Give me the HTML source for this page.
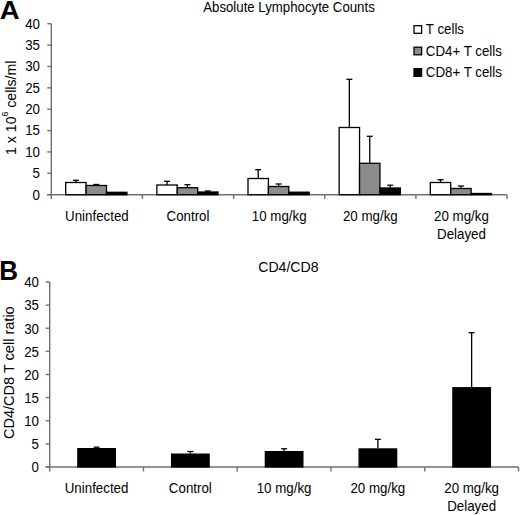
<!DOCTYPE html>
<html><head><meta charset="utf-8"><style>
html,body{margin:0;padding:0;background:#fff;}
svg{display:block;}
text{font-family:"Liberation Sans", sans-serif;fill:#000;}
</style></head><body>
<svg width="520" height="515" viewBox="0 0 520 515">
<rect width="520" height="515" fill="#fff"/>
<line x1="51.30" y1="23.70" x2="51.30" y2="194.70" stroke="#707070" stroke-width="1.4"/>
<line x1="47.30" y1="194.70" x2="51.30" y2="194.70" stroke="#707070" stroke-width="1.4"/>
<text transform="translate(40.00,199.60) scale(0.952,1.000)" font-size="14" text-anchor="end"  >0</text>
<line x1="47.30" y1="173.32" x2="51.30" y2="173.32" stroke="#707070" stroke-width="1.4"/>
<text transform="translate(40.00,178.22) scale(0.952,1.000)" font-size="14" text-anchor="end"  >5</text>
<line x1="47.30" y1="151.95" x2="51.30" y2="151.95" stroke="#707070" stroke-width="1.4"/>
<text transform="translate(40.00,156.85) scale(0.952,1.000)" font-size="14" text-anchor="end"  >10</text>
<line x1="47.30" y1="130.57" x2="51.30" y2="130.57" stroke="#707070" stroke-width="1.4"/>
<text transform="translate(40.00,135.47) scale(0.952,1.000)" font-size="14" text-anchor="end"  >15</text>
<line x1="47.30" y1="109.20" x2="51.30" y2="109.20" stroke="#707070" stroke-width="1.4"/>
<text transform="translate(40.00,114.10) scale(0.952,1.000)" font-size="14" text-anchor="end"  >20</text>
<line x1="47.30" y1="87.82" x2="51.30" y2="87.82" stroke="#707070" stroke-width="1.4"/>
<text transform="translate(40.00,92.72) scale(0.952,1.000)" font-size="14" text-anchor="end"  >25</text>
<line x1="47.30" y1="66.45" x2="51.30" y2="66.45" stroke="#707070" stroke-width="1.4"/>
<text transform="translate(40.00,71.35) scale(0.952,1.000)" font-size="14" text-anchor="end"  >30</text>
<line x1="47.30" y1="45.07" x2="51.30" y2="45.07" stroke="#707070" stroke-width="1.4"/>
<text transform="translate(40.00,49.97) scale(0.952,1.000)" font-size="14" text-anchor="end"  >35</text>
<line x1="47.30" y1="23.70" x2="51.30" y2="23.70" stroke="#707070" stroke-width="1.4"/>
<text transform="translate(40.00,28.60) scale(0.952,1.000)" font-size="14" text-anchor="end"  >40</text>
<line x1="47.30" y1="194.70" x2="507.05" y2="194.70" stroke="#707070" stroke-width="1.4"/>
<rect x="65.70" y="182.50" width="20.40" height="12.20" fill="#ffffff" stroke="#000" stroke-width="1.3"/>
<line x1="75.90" y1="180.30" x2="75.90" y2="182.50" stroke="#000" stroke-width="1.3"/>
<line x1="72.90" y1="180.30" x2="78.90" y2="180.30" stroke="#000" stroke-width="1.3"/>
<rect x="86.10" y="185.50" width="20.40" height="9.20" fill="#8c8c8c" stroke="#000" stroke-width="1.3"/>
<line x1="96.30" y1="184.50" x2="96.30" y2="185.50" stroke="#000" stroke-width="1.3"/>
<line x1="93.30" y1="184.50" x2="99.30" y2="184.50" stroke="#000" stroke-width="1.3"/>
<rect x="106.50" y="192.30" width="20.40" height="2.40" fill="#000000" stroke="#000" stroke-width="1.3"/>
<rect x="156.85" y="185.00" width="20.40" height="9.70" fill="#ffffff" stroke="#000" stroke-width="1.3"/>
<line x1="167.05" y1="181.30" x2="167.05" y2="185.00" stroke="#000" stroke-width="1.3"/>
<line x1="164.05" y1="181.30" x2="170.05" y2="181.30" stroke="#000" stroke-width="1.3"/>
<rect x="177.25" y="187.70" width="20.40" height="7.00" fill="#8c8c8c" stroke="#000" stroke-width="1.3"/>
<line x1="187.45" y1="184.70" x2="187.45" y2="187.70" stroke="#000" stroke-width="1.3"/>
<line x1="184.45" y1="184.70" x2="190.45" y2="184.70" stroke="#000" stroke-width="1.3"/>
<rect x="197.65" y="192.00" width="20.40" height="2.70" fill="#000000" stroke="#000" stroke-width="1.3"/>
<line x1="207.85" y1="191.00" x2="207.85" y2="192.00" stroke="#000" stroke-width="1.3"/>
<line x1="204.85" y1="191.00" x2="210.85" y2="191.00" stroke="#000" stroke-width="1.3"/>
<rect x="248.00" y="178.50" width="20.40" height="16.20" fill="#ffffff" stroke="#000" stroke-width="1.3"/>
<line x1="258.20" y1="169.70" x2="258.20" y2="178.50" stroke="#000" stroke-width="1.3"/>
<line x1="255.20" y1="169.70" x2="261.20" y2="169.70" stroke="#000" stroke-width="1.3"/>
<rect x="268.40" y="186.50" width="20.40" height="8.20" fill="#8c8c8c" stroke="#000" stroke-width="1.3"/>
<line x1="278.60" y1="184.00" x2="278.60" y2="186.50" stroke="#000" stroke-width="1.3"/>
<line x1="275.60" y1="184.00" x2="281.60" y2="184.00" stroke="#000" stroke-width="1.3"/>
<rect x="288.80" y="192.20" width="20.40" height="2.50" fill="#000000" stroke="#000" stroke-width="1.3"/>
<rect x="339.15" y="127.50" width="20.40" height="67.20" fill="#ffffff" stroke="#000" stroke-width="1.3"/>
<line x1="349.35" y1="79.30" x2="349.35" y2="127.50" stroke="#000" stroke-width="1.3"/>
<line x1="346.35" y1="79.30" x2="352.35" y2="79.30" stroke="#000" stroke-width="1.3"/>
<rect x="359.55" y="163.30" width="20.40" height="31.40" fill="#8c8c8c" stroke="#000" stroke-width="1.3"/>
<line x1="369.75" y1="136.30" x2="369.75" y2="163.30" stroke="#000" stroke-width="1.3"/>
<line x1="366.75" y1="136.30" x2="372.75" y2="136.30" stroke="#000" stroke-width="1.3"/>
<rect x="379.95" y="188.00" width="20.40" height="6.70" fill="#000000" stroke="#000" stroke-width="1.3"/>
<line x1="390.15" y1="185.20" x2="390.15" y2="188.00" stroke="#000" stroke-width="1.3"/>
<line x1="387.15" y1="185.20" x2="393.15" y2="185.20" stroke="#000" stroke-width="1.3"/>
<rect x="430.30" y="182.50" width="20.40" height="12.20" fill="#ffffff" stroke="#000" stroke-width="1.3"/>
<line x1="440.50" y1="179.70" x2="440.50" y2="182.50" stroke="#000" stroke-width="1.3"/>
<line x1="437.50" y1="179.70" x2="443.50" y2="179.70" stroke="#000" stroke-width="1.3"/>
<rect x="450.70" y="188.50" width="20.40" height="6.20" fill="#8c8c8c" stroke="#000" stroke-width="1.3"/>
<line x1="460.90" y1="186.00" x2="460.90" y2="188.50" stroke="#000" stroke-width="1.3"/>
<line x1="457.90" y1="186.00" x2="463.90" y2="186.00" stroke="#000" stroke-width="1.3"/>
<rect x="471.10" y="193.50" width="20.40" height="1.20" fill="#000000" stroke="#000" stroke-width="1.3"/>
<line x1="51.30" y1="194.70" x2="51.30" y2="199.00" stroke="#707070" stroke-width="1.4"/>
<line x1="142.45" y1="194.70" x2="142.45" y2="199.00" stroke="#707070" stroke-width="1.4"/>
<line x1="233.60" y1="194.70" x2="233.60" y2="199.00" stroke="#707070" stroke-width="1.4"/>
<line x1="324.75" y1="194.70" x2="324.75" y2="199.00" stroke="#707070" stroke-width="1.4"/>
<line x1="415.90" y1="194.70" x2="415.90" y2="199.00" stroke="#707070" stroke-width="1.4"/>
<line x1="507.05" y1="194.70" x2="507.05" y2="199.00" stroke="#707070" stroke-width="1.4"/>
<text transform="translate(96.88,220.70) scale(0.952,1.000)" font-size="14" text-anchor="middle"  >Uninfected</text>
<text transform="translate(188.02,220.70) scale(0.952,1.000)" font-size="14" text-anchor="middle"  >Control</text>
<text transform="translate(279.18,220.70) scale(0.952,1.000)" font-size="14" text-anchor="middle"  >10 mg/kg</text>
<text transform="translate(370.33,220.70) scale(0.952,1.000)" font-size="14" text-anchor="middle"  >20 mg/kg</text>
<text transform="translate(461.48,220.70) scale(0.952,1.000)" font-size="14" text-anchor="middle"  >20 mg/kg</text>
<text transform="translate(461.48,238.60) scale(0.952,1.000)" font-size="14" text-anchor="middle"  >Delayed</text>
<text transform="translate(203.20,12.20) scale(0.946,1.000)" font-size="14" text-anchor="start"  >Absolute Lymphocyte Counts</text>
<rect x="414.00" y="25.70" width="7.60" height="7.60" fill="#fff" stroke="#000" stroke-width="1.3"/>
<text transform="translate(425.80,34.30) scale(0.952,1.000)" font-size="14" text-anchor="start"  >T cells</text>
<rect x="414.00" y="47.20" width="7.60" height="7.60" fill="#8c8c8c" stroke="#000" stroke-width="1.3"/>
<text transform="translate(425.80,55.80) scale(0.952,1.000)" font-size="14" text-anchor="start"  >CD4+ T cells</text>
<rect x="414.00" y="68.70" width="7.60" height="7.60" fill="#000" stroke="#000" stroke-width="1.3"/>
<text transform="translate(425.80,77.30) scale(0.952,1.000)" font-size="14" text-anchor="start"  >CD8+ T cells</text>
<text transform="translate(15.6,107.8) rotate(-90) scale(1.012,1)" font-size="14" text-anchor="middle" >1 x 10<tspan dy="-7.3" font-size="8.5">6</tspan><tspan dy="7.3"> cells/ml</tspan></text>
<text transform="translate(-0.3,19.25) scale(1.06,1)" font-size="26" font-weight="bold">A</text>
<line x1="49.70" y1="282.00" x2="49.70" y2="467.00" stroke="#707070" stroke-width="1.4"/>
<line x1="45.70" y1="467.00" x2="49.70" y2="467.00" stroke="#707070" stroke-width="1.4"/>
<text transform="translate(39.00,472.30) scale(0.952,1.000)" font-size="14" text-anchor="end"  >0</text>
<line x1="45.70" y1="443.88" x2="49.70" y2="443.88" stroke="#707070" stroke-width="1.4"/>
<text transform="translate(39.00,449.18) scale(0.952,1.000)" font-size="14" text-anchor="end"  >5</text>
<line x1="45.70" y1="420.75" x2="49.70" y2="420.75" stroke="#707070" stroke-width="1.4"/>
<text transform="translate(39.00,426.05) scale(0.952,1.000)" font-size="14" text-anchor="end"  >10</text>
<line x1="45.70" y1="397.62" x2="49.70" y2="397.62" stroke="#707070" stroke-width="1.4"/>
<text transform="translate(39.00,402.93) scale(0.952,1.000)" font-size="14" text-anchor="end"  >15</text>
<line x1="45.70" y1="374.50" x2="49.70" y2="374.50" stroke="#707070" stroke-width="1.4"/>
<text transform="translate(39.00,379.80) scale(0.952,1.000)" font-size="14" text-anchor="end"  >20</text>
<line x1="45.70" y1="351.38" x2="49.70" y2="351.38" stroke="#707070" stroke-width="1.4"/>
<text transform="translate(39.00,356.68) scale(0.952,1.000)" font-size="14" text-anchor="end"  >25</text>
<line x1="45.70" y1="328.25" x2="49.70" y2="328.25" stroke="#707070" stroke-width="1.4"/>
<text transform="translate(39.00,333.55) scale(0.952,1.000)" font-size="14" text-anchor="end"  >30</text>
<line x1="45.70" y1="305.12" x2="49.70" y2="305.12" stroke="#707070" stroke-width="1.4"/>
<text transform="translate(39.00,310.43) scale(0.952,1.000)" font-size="14" text-anchor="end"  >35</text>
<line x1="45.70" y1="282.00" x2="49.70" y2="282.00" stroke="#707070" stroke-width="1.4"/>
<text transform="translate(39.00,287.30) scale(0.952,1.000)" font-size="14" text-anchor="end"  >40</text>
<line x1="45.70" y1="467.00" x2="518.50" y2="467.00" stroke="#707070" stroke-width="1.4"/>
<rect x="77.85" y="448.65" width="37.50" height="18.35" fill="#000" stroke="#000" stroke-width="1.3"/>
<line x1="96.60" y1="447.20" x2="96.60" y2="448.00" stroke="#000" stroke-width="1.3"/>
<line x1="93.60" y1="447.20" x2="99.60" y2="447.20" stroke="#000" stroke-width="1.3"/>
<rect x="171.61" y="454.15" width="37.50" height="12.85" fill="#000" stroke="#000" stroke-width="1.3"/>
<line x1="190.36" y1="451.50" x2="190.36" y2="453.50" stroke="#000" stroke-width="1.3"/>
<line x1="187.36" y1="451.50" x2="193.36" y2="451.50" stroke="#000" stroke-width="1.3"/>
<rect x="265.37" y="451.65" width="37.50" height="15.35" fill="#000" stroke="#000" stroke-width="1.3"/>
<line x1="284.12" y1="448.80" x2="284.12" y2="451.00" stroke="#000" stroke-width="1.3"/>
<line x1="281.12" y1="448.80" x2="287.12" y2="448.80" stroke="#000" stroke-width="1.3"/>
<rect x="359.13" y="448.95" width="37.50" height="18.05" fill="#000" stroke="#000" stroke-width="1.3"/>
<line x1="377.88" y1="439.30" x2="377.88" y2="448.30" stroke="#000" stroke-width="1.3"/>
<line x1="374.88" y1="439.30" x2="380.88" y2="439.30" stroke="#000" stroke-width="1.3"/>
<rect x="452.89" y="387.75" width="37.50" height="79.25" fill="#000" stroke="#000" stroke-width="1.3"/>
<line x1="471.64" y1="332.70" x2="471.64" y2="387.10" stroke="#000" stroke-width="1.3"/>
<line x1="468.64" y1="332.70" x2="474.64" y2="332.70" stroke="#000" stroke-width="1.3"/>
<line x1="49.70" y1="467.00" x2="49.70" y2="471.50" stroke="#707070" stroke-width="1.4"/>
<line x1="143.46" y1="467.00" x2="143.46" y2="471.50" stroke="#707070" stroke-width="1.4"/>
<line x1="237.22" y1="467.00" x2="237.22" y2="471.50" stroke="#707070" stroke-width="1.4"/>
<line x1="330.98" y1="467.00" x2="330.98" y2="471.50" stroke="#707070" stroke-width="1.4"/>
<line x1="424.74" y1="467.00" x2="424.74" y2="471.50" stroke="#707070" stroke-width="1.4"/>
<line x1="518.50" y1="467.00" x2="518.50" y2="471.50" stroke="#707070" stroke-width="1.4"/>
<text transform="translate(96.58,492.90) scale(0.952,1.000)" font-size="14" text-anchor="middle"  >Uninfected</text>
<text transform="translate(190.34,492.90) scale(0.952,1.000)" font-size="14" text-anchor="middle"  >Control</text>
<text transform="translate(284.10,492.90) scale(0.952,1.000)" font-size="14" text-anchor="middle"  >10 mg/kg</text>
<text transform="translate(377.86,492.90) scale(0.952,1.000)" font-size="14" text-anchor="middle"  >20 mg/kg</text>
<text transform="translate(471.62,492.90) scale(0.952,1.000)" font-size="14" text-anchor="middle"  >20 mg/kg</text>
<text transform="translate(471.62,511.00) scale(0.952,1.000)" font-size="14" text-anchor="middle"  >Delayed</text>
<text transform="translate(288.40,271.50) scale(1.010,1.000)" font-size="14" text-anchor="middle"  >CD4/CD8</text>
<text transform="translate(14.1,372.7) rotate(-90) scale(1.04,1)" font-size="14" text-anchor="middle" >CD4/CD8 T cell ratio</text>
<text transform="translate(-0.75,279.5) scale(1,1.04)" font-size="26" font-weight="bold">B</text>
</svg>
</body></html>
